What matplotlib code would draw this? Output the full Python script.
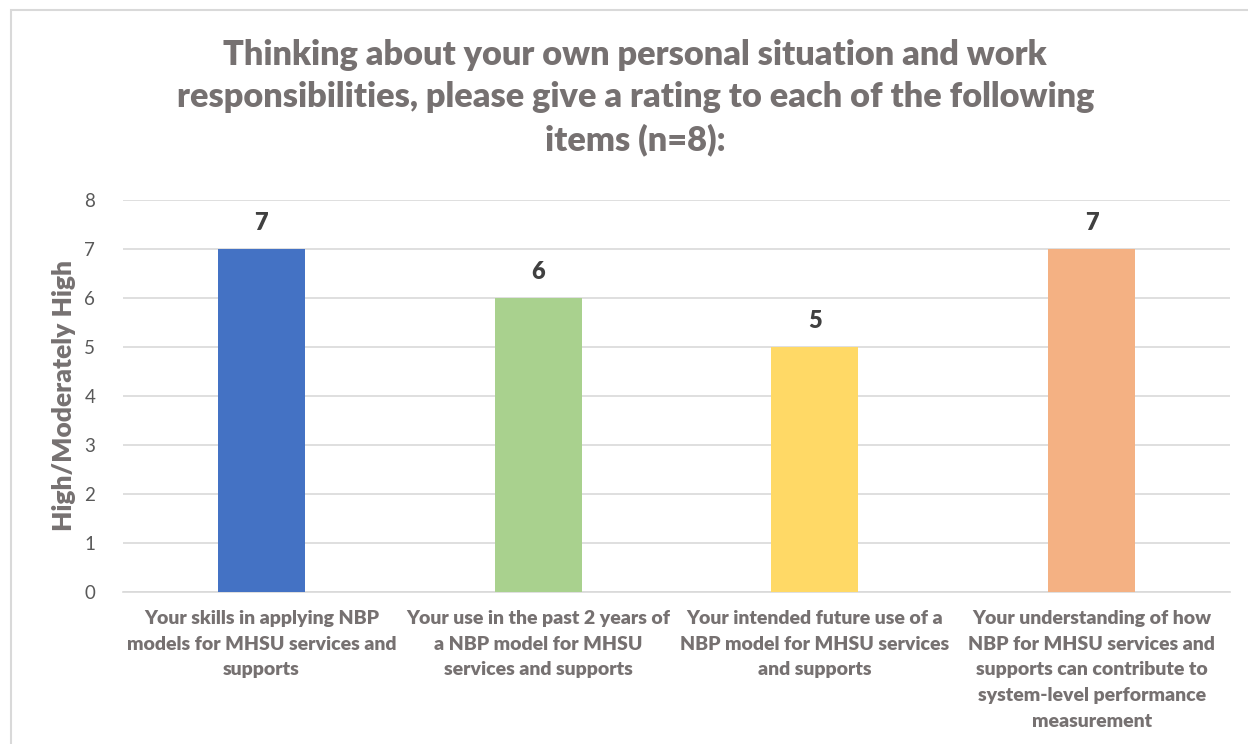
import matplotlib.pyplot as plt
from matplotlib.patches import Rectangle

categories = [
    "Your skills in applying NBP\nmodels for MHSU services and\nsupports",
    "Your use in the past 2 years of\na NBP model for MHSU\nservices and supports",
    "Your intended future use of a\nNBP model for MHSU services\nand supports",
    "Your understanding of how\nNBP for MHSU services and\nsupports can contribute to\nsystem-level performance\nmeasurement",
]
values = [7, 6, 5, 7]
colors = ["#4472C4", "#A9D18E", "#FFD966", "#F4B183"]
yticks = list(range(0, 9))

title = ("Thinking about your own personal situation and work\n"
         "responsibilities, please give a rating to each of the following\n"
         "items (n=8):")

plt.rcParams["font.family"] = ["Lato", "DejaVu Sans"]

fig = plt.figure(figsize=(12.48, 7.44), dpi=100)
ax = fig.add_axes([0.0986, 0.2043, 0.887, 0.5269])

# chart area border
fig.patches.append(Rectangle((11 / 1248, -0.05), 1.2, 1 - 10 / 744 + 0.05,
                             transform=fig.transFigure, fill=False,
                             edgecolor="#D9D9D9", linewidth=1.5))

x = range(len(values))
bars = ax.bar(x, values, width=0.314, color=colors, zorder=3)
for b, v in zip(bars, values):
    ax.text(b.get_x() + b.get_width() / 2, v + 0.3, str(v), ha="center",
            va="bottom", fontsize=17, fontweight="heavy", color="#404040")

ax.set_xlim(-0.5, 3.5)
ax.set_ylim(0, 8)
ax.set_yticks(yticks)
ax.grid(axis="y", color="#D9D9D9", linewidth=1.2, zorder=0)
for s in ["top", "right", "left"]:
    ax.spines[s].set_visible(False)
ax.spines["bottom"].set_color("#D9D9D9")
ax.spines["bottom"].set_linewidth(1.2)
ax.tick_params(axis="both", length=0)
ax.tick_params(axis="y", labelsize=13.5, labelcolor="#595959", pad=20)
ax.set_xticks(list(x))
ax.set_xticklabels(categories, fontsize=14, fontweight="heavy",
                   color="#767171", linespacing=1.62)
ax.tick_params(axis="x", pad=13)
ax.set_ylabel("High/Moderately High", fontsize=19, fontweight="heavy",
              color="#767171", labelpad=6)

fig.text(0.509, 0.948, title, ha="center", va="top", fontsize=24.7,
         fontweight="heavy", color="#767171", linespacing=1.4)

fig.savefig("out.png", dpi=100)
